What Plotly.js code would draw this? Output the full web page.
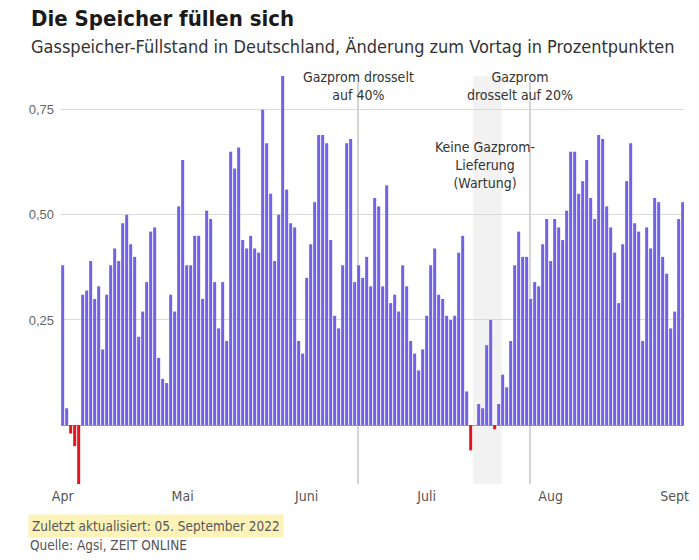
<!DOCTYPE html>
<html>
<head>
<meta charset="utf-8">
<script src="https://cdn.plot.ly/plotly-3.0.1.min.js"></script>
<style>
  body { margin: 0; background: #fff; }
  #chart { width: 699px; height: 560px; }
</style>
</head>
<body>
<div id="chart"></div>
<script>
// Tägliche Änderung des Füllstands, 1. April bis 3. September 2022
var startDate = '2022-04-01';
var aprilValues = [0.38, 0.04, -0.02, -0.05, -0.14, 0.31, 0.32, 0.39, 0.30, 0.33,
  0.18, 0.31, 0.38, 0.42, 0.39, 0.48, 0.50, 0.43, 0.40, 0.21,
  0.27, 0.34, 0.46, 0.47, 0.16, 0.11, 0.10, 0.31, 0.27, 0.52];
var mayValues = [0.63, 0.38, 0.38, 0.45, 0.45, 0.30, 0.51, 0.49, 0.34, 0.23,
  0.34, 0.20, 0.65, 0.61, 0.66, 0.44, 0.42, 0.45, 0.42, 0.41,
  0.75, 0.67, 0.55, 0.39, 0.50, 0.83, 0.56, 0.48, 0.47, 0.20, 0.17];
var juneValues = [0.35, 0.43, 0.53, 0.69, 0.69, 0.67, 0.44, 0.26, 0.23, 0.38,
  0.67, 0.68, 0.34, 0.38, 0.35, 0.40, 0.33, 0.54, 0.52, 0.33,
  0.57, 0.29, 0.31, 0.27, 0.38, 0.33, 0.20, 0.17, 0.13, 0.18];
var julyValues = [0.26, 0.38, 0.42, 0.31, 0.30, 0.26, 0.25, 0.26, 0.41, 0.45,
  0.08, -0.06, 0, 0.05, 0.04, 0.19, 0.25, -0.01, 0.05, 0.12,
  0.09, 0.20, 0.38, 0.46, 0.40, 0.40, 0.30, 0.34, 0.33, 0.43, 0.49];
var augustValues = [0.39, 0.49, 0.47, 0.44, 0.51, 0.65, 0.65, 0.55, 0.58, 0.63,
  0.54, 0.49, 0.69, 0.68, 0.52, 0.47, 0.41, 0.29, 0.43, 0.58,
  0.67, 0.48, 0.46, 0.20, 0.47, 0.42, 0.54, 0.53, 0.40, 0.36, 0.23];
var septemberValues = [0.27, 0.49, 0.53];

var monthTicks = ['2022-04-01', '2022-05-01', '2022-06-01', '2022-07-01', '2022-08-01', '2022-09-01'];
var monthLabels = ['Apr', 'Mai', 'Juni', 'Juli', 'Aug', 'Sept'];
var yTicks = [0.25, 0.5, 0.75];
var yLabels = ['0,25', '0,50', '0,75'];

var values = [].concat(aprilValues, mayValues, juneValues, julyValues, augustValues, septemberValues);

var dates = [];
var d0 = new Date(startDate + 'T00:00:00Z');
for (var i = 0; i < values.length; i++) {
  var d = new Date(d0.getTime() + i * 86400000);
  dates.push(d.toISOString().slice(0, 10));
}

var colors = values.map(function (v) { return v < 0 ? '#e5141f' : '#7262e4'; });

var condensed = '"Liberation Sans Narrow", "DejaVu Sans Condensed", Roboto, sans-serif';

var trace = {
  x: dates,
  y: values,
  type: 'bar',
  marker: { color: colors, line: { width: 0 } },
  hoverinfo: 'x+y'
};

var layout = {
  width: 699,
  height: 560,
  margin: { l: 61, r: 15, t: 76, b: 76 },
  paper_bgcolor: '#fff',
  plot_bgcolor: '#fff',
  bargap: 0.25,
  showlegend: false,
  font: { family: condensed, color: '#555', size: 13 },
  xaxis: {
    type: 'date',
    range: ['2022-03-31 14:00', '2022-09-03 08:00'],
    tickvals: monthTicks,
    ticktext: monthLabels,
    showgrid: false,
    showline: false,
    zeroline: false,
    ticks: '',
    ticklabelstandoff: 2,
    tickfont: { family: condensed, size: 14, color: '#555' },
    fixedrange: true
  },
  yaxis: {
    range: [-0.14, 0.83],
    tickvals: yTicks,
    ticktext: yLabels,
    showgrid: true,
    gridcolor: '#dadada',
    gridwidth: 1,
    zeroline: true,
    zerolinecolor: '#9a9a9a',
    zerolinewidth: 1,
    showline: false,
    ticks: '',
    ticklabelstandoff: 6,
    tickfont: { family: 'Liberation Sans, Arial, sans-serif', size: 13, color: '#666' },
    fixedrange: true
  },
  shapes: [
    {
      type: 'rect', xref: 'x', yref: 'paper',
      x0: '2022-07-12 14:00', x1: '2022-07-19 18:00', y0: 0, y1: 1.0,
      fillcolor: '#f2f2f2', line: { width: 0 }, layer: 'below'
    },
    {
      type: 'line', xref: 'x', yref: 'paper',
      x0: '2022-06-13 20:00', x1: '2022-06-13 20:00', y0: 0, y1: 0.985,
      line: { color: '#aaaaaa', width: 1 }, layer: 'below'
    },
    {
      type: 'line', xref: 'x', yref: 'paper',
      x0: '2022-07-26 20:00', x1: '2022-07-26 20:00', y0: 0, y1: 0.985,
      line: { color: '#aaaaaa', width: 1 }, layer: 'below'
    }
  ],
  annotations: [
    {
      xref: 'paper', yref: 'paper', x: -0.052, y: 1.14,
      xanchor: 'left', yanchor: 'middle', showarrow: false,
      text: '<b>Die Speicher füllen sich</b>',
      font: { family: condensed, size: 22, color: '#1a1a1a' }
    },
    {
      xref: 'paper', yref: 'paper', x: -0.052, y: 1.073,
      xanchor: 'left', yanchor: 'middle', showarrow: false,
      text: 'Gasspeicher-Füllstand in Deutschland, Änderung zum Vortag in Prozentpunkten',
      font: { family: condensed, size: 18, color: '#333' }
    },
    {
      xref: 'x', yref: 'paper', x: '2022-06-13 20:00', y: 1.022,
      xanchor: 'center', yanchor: 'top', showarrow: false,
      text: 'Gazprom drosselt<br>auf 40%',
      font: { family: condensed, size: 14, color: '#333' }
    },
    {
      xref: 'x', yref: 'paper', x: '2022-07-24 08:00', y: 1.022,
      xanchor: 'center', yanchor: 'top', showarrow: false,
      text: 'Gazprom<br>drosselt auf 20%',
      font: { family: condensed, size: 14, color: '#333' }
    },
    {
      xref: 'x', yref: 'paper', x: '2022-07-15 14:00', y: 0.85,
      xanchor: 'center', yanchor: 'top', showarrow: false,
      text: 'Keine Gazprom-<br>Lieferung<br>(Wartung)',
      font: { family: condensed, size: 14, color: '#333' }
    },
    {
      xref: 'paper', yref: 'paper', x: -0.053, y: -0.103,
      xanchor: 'left', yanchor: 'middle', showarrow: false,
      text: 'Zuletzt aktualisiert: 05. September 2022',
      bgcolor: '#fdf3b8', borderpad: 3,
      font: { family: condensed, size: 13.5, color: '#555' }
    },
    {
      xref: 'paper', yref: 'paper', x: -0.053, y: -0.15,
      xanchor: 'left', yanchor: 'middle', showarrow: false,
      text: 'Quelle: Agsi, ZEIT ONLINE',
      font: { family: condensed, size: 13.5, color: '#555' }
    }
  ]
};

Plotly.newPlot('chart', [trace], layout, { displayModeBar: false, staticPlot: true });
</script>
</body>
</html>
